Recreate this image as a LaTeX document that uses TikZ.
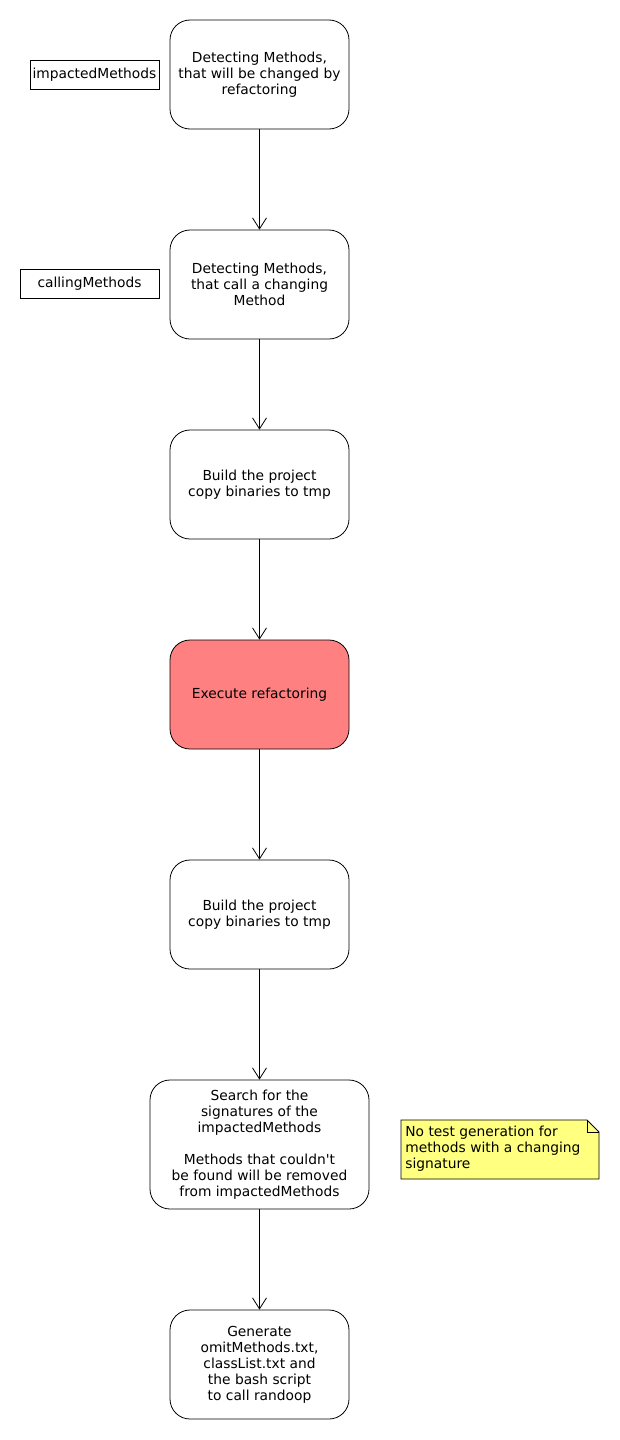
\documentclass[tikz,border=0pt]{standalone}
\usepackage{fontspec}
\setmainfont{DejaVu Sans}
\usetikzlibrary{arrows.meta}
\usetikzlibrary{positioning}
\usetikzlibrary{shapes.misc}

\definecolor{actred}{HTML}{FF8080}
\definecolor{noteyellow}{HTML}{FFFF80}

\begin{document}
\begin{tikzpicture}[x=1pt,y=-1pt,
  every node/.style={font=\fontsize{13.8}{16}\selectfont,line width=0.8pt},
  action/.style={draw,rounded corners=20pt,align=center,minimum width=179pt,minimum height=109pt,inner sep=0pt},
  varbox/.style={draw,rectangle,minimum height=29pt,inner sep=2pt},
  flow/.style={-{Straight Barb[length=11pt,width=14pt]},line width=0.8pt}]
\useasboundingbox (0,0) rectangle (620,1440);

\node[action] (detect) at (259.5,74.5) {Detecting Methods,\\that will be changed by\\refactoring};
\node[action] (calling) at (259.5,284.5) {Detecting Methods,\\that call a changing\\Method};
\node[action] (buildA) at (259.5,484.5) {Build the project\\copy binaries to tmp};
\node[action,fill=actred] (refactor) at (259.5,694.5) {Execute refactoring};
\node[action] (buildB) at (259.5,914.5) {Build the project\\copy binaries to tmp};
\node[action,minimum width=219pt,minimum height=129pt] (search) at (259.5,1144.5) {Search for the\\signatures of the\\impactedMethods\\[16pt]Methods that couldn\textquotesingle t\\be found will be removed\\from impactedMethods};
\node[action] (generate) at (259.5,1364.5) {Generate\\omitMethods.txt,\\classList.txt and\\the bash script\\to call randoop};

\node[varbox,minimum width=129pt] (impacted) at (94.5,74.5) {impactedMethods};
\node[varbox,minimum width=139pt] (callers) at (89.5,284) {callingMethods};

% note
\draw[fill=noteyellow,line width=0.8pt] (401,1120) -- (587,1120) -- (599,1132) -- (599,1179) -- (401,1179) -- cycle;
\draw[line width=0.8pt] (587,1120) -- (587,1132) -- (599,1132);
\node[align=left,anchor=west,inner sep=0pt] (note) at (405,1149) {No test generation for\\methods with a changing\\signature};

\draw[flow] (detect) -- (calling);
\draw[flow] (calling) -- (buildA);
\draw[flow] (buildA) -- (refactor);
\draw[flow] (refactor) -- (buildB);
\draw[flow] (buildB) -- (search);
\draw[flow] (search) -- (generate);

\end{tikzpicture}
\end{document}
